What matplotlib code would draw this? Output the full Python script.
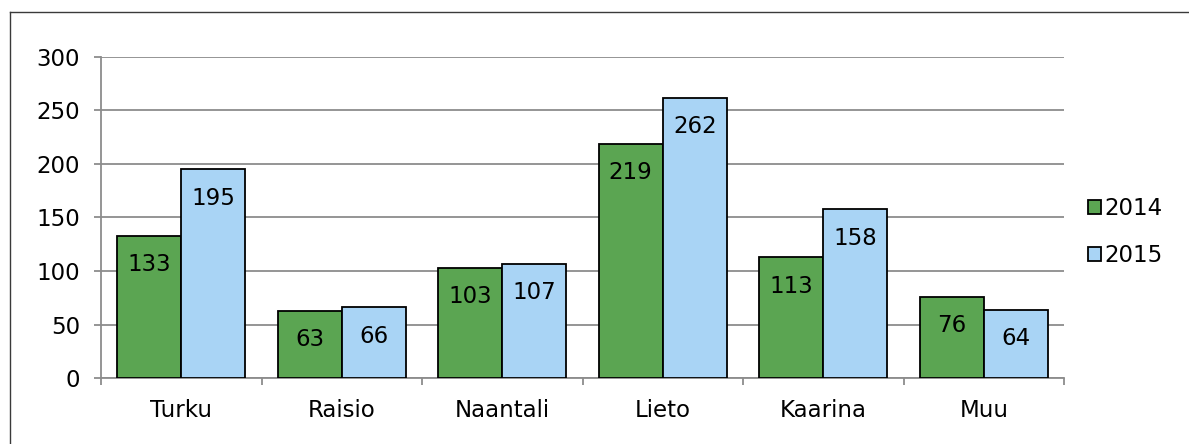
import matplotlib.pyplot as plt
import numpy as np
from matplotlib.lines import Line2D

CATEGORIES = ["Turku", "Raisio", "Naantali", "Lieto", "Kaarina", "Muu"]
VALUES_2014 = [133, 63, 103, 219, 113, 76]
VALUES_2015 = [195, 66, 107, 262, 158, 64]
SERIES_LABELS = ["2014", "2015"]

GREEN = "#5ba552"
BLUE = "#a9d4f5"
GRID = "#8c8c8c"
FS = 16.5

plt.rcParams["font.family"] = "DejaVu Sans"

fig = plt.figure(figsize=(11.89, 4.44), dpi=100)
ax = fig.add_axes([101 / 1189, 1 - 378 / 444, 963 / 1189, 321 / 444])

x = np.arange(len(CATEGORIES))
width = 0.4
bars1 = ax.bar(x - width / 2, VALUES_2014, width, color=GREEN, edgecolor="black",
               linewidth=1.3, label=SERIES_LABELS[0], zorder=3)
bars2 = ax.bar(x + width / 2, VALUES_2015, width, color=BLUE, edgecolor="black",
               linewidth=1.3, label=SERIES_LABELS[1], zorder=3)

for bars in (bars1, bars2):
    for b in bars:
        ax.annotate(f"{int(b.get_height())}", (b.get_x() + b.get_width() / 2, b.get_height()),
                    xytext=(0, -21), textcoords="offset points", ha="center", va="center",
                    fontsize=FS, color="black", zorder=4)

ax.set_xlim(-0.5, len(CATEGORIES) - 0.5)
ax.set_ylim(0, 300)
ax.set_yticks(range(0, 301, 50))
ax.yaxis.grid(True, color=GRID, linewidth=1.3, zorder=0)
ax.set_axisbelow(True)

ax.set_xticks(x)
ax.set_xticklabels(CATEGORIES)
ax.set_xticks(np.arange(-0.5, len(CATEGORIES), 1), minor=True)
ax.tick_params(axis="x", which="major", length=0, pad=15, labelsize=FS)
ax.tick_params(axis="x", which="minor", length=5, width=1.3, color=GRID, direction="out")
ax.tick_params(axis="y", length=5, width=1.3, color=GRID, pad=10, labelsize=FS)

for side in ("top", "right"):
    ax.spines[side].set_visible(False)
for side in ("left", "bottom"):
    ax.spines[side].set_color(GRID)
    ax.spines[side].set_linewidth(1.3)

fig.legend(handles=[bars1, bars2], labels=SERIES_LABELS, loc="center left",
           bbox_to_anchor=(1088 / 1189, 1 - 232 / 444), frameon=False, fontsize=FS,
           handlelength=0.55, handleheight=0.55, handletextpad=0.15, labelspacing=1.05,
           borderaxespad=0, borderpad=0)

# chart area border (only top and left visible in the crop)
fig.add_artist(Line2D([10 / 1189, 1.01], [1 - 12 / 444, 1 - 12 / 444], transform=fig.transFigure,
                      color="#3a3a3a", linewidth=1.0))
fig.add_artist(Line2D([10 / 1189, 10 / 1189], [-0.01, 1 - 12 / 444], transform=fig.transFigure,
                      color="#3a3a3a", linewidth=1.0))

fig.savefig("out.png", dpi=100)
